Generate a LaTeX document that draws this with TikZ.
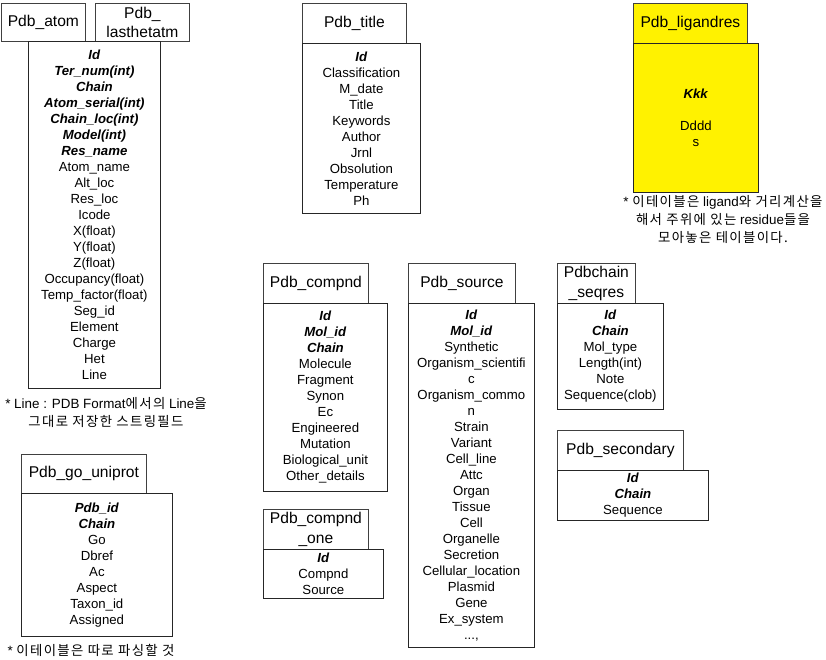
\documentclass[tikz,border=0pt]{standalone}
\usepackage{fontspec}
\setmainfont{Liberation Sans}
\newfontfamily\kr[LetterSpace=10]{Noto Sans CJK KR}
\usepackage{tikz}
\usetikzlibrary{positioning}
\newcommand{\pk}[1]{\textbf{\textit{#1}}}
\tikzset{
  hdr/.style={draw=black!75, line width=0.8pt, fill=white, align=center, inner sep=0pt,
    anchor=north west, font=\fontsize{15.6}{19.5}\selectfont},
  tbl/.style={draw=black!85, line width=0.8pt, align=center, inner sep=0pt,
    anchor=north west, font=\fontsize{13.2}{16}\selectfont},
  note/.style={align=center, inner sep=0pt, font=\fontsize{13.4}{18}\selectfont}
}
\begin{document}
\begin{tikzpicture}[x=1pt,y=-1pt]
\useasboundingbox (0,0) rectangle (826,659);
\node[hdr, minimum width=84, minimum height=38] (atomh) at (1,3) {Pdb\_atom};
\node[hdr, minimum width=94, minimum height=38] (lasth) at (95,3) {Pdb\_\\lasthetatm};
\node[tbl, minimum width=132, minimum height=347] (atom) at (28,41) {
\pk{Id}\\ \pk{Ter\_num(int)}\\ \pk{Chain}\\ \pk{Atom\_serial(int)}\\ \pk{Chain\_loc(int)}\\
\pk{Model(int)}\\ \pk{Res\_name}\\ Atom\_name\\ Alt\_loc\\ Res\_loc\\ Icode\\ X(float)\\
Y(float)\\ Z(float)\\ Occupancy(float)\\ Temp\_factor(float)\\ Seg\_id\\ Element\\
Charge\\ Het\\ Line};
\node[note] (atomnote) at (106,412) {* Line : PDB Format{\kr 에서의} Line{\kr 을}\\
{\kr 그대로 저장한 스트링필드}};

\node[hdr, minimum width=125, minimum height=39] (goh) at (21,454) {Pdb\_go\_uniprot};
\node[tbl, minimum width=151, minimum height=143] (go) at (21,493) {
\pk{Pdb\_id}\\ \pk{Chain}\\ Go\\ Dbref\\ Ac\\ Aspect\\ Taxon\_id\\ Assigned};
\node[note] (gonote) at (91,650) {* {\kr 이테이블은 따로 파싱할 것}};

\node[hdr, minimum width=104, minimum height=40] (titleh) at (302,3) {Pdb\_title};
\node[tbl, minimum width=118, minimum height=170] (title) at (302,43) {
\pk{Id}\\ Classification\\ M\_date\\ Title\\ Keywords\\ Author\\ Jrnl\\ Obsolution\\
Temperature\\ Ph};

\node[hdr, fill=yellow, minimum width=114, minimum height=40] (ligh) at (633,3) {Pdb\_ligandres};
\node[tbl, fill=yellow, minimum width=125, minimum height=149] (lig) at (633,43) {
\pk{Kkk}\\ \mbox{}\\ Dddd\\ s};
\node[note] (lignote) at (723,219) {* {\kr 이테이블은} ligand{\kr 와 거리계산을}\\
{\kr 해서 주위에 있는} residue{\kr 들을}\\ {\kr 모아놓은 테이블이다.}};

\node[hdr, minimum width=105, minimum height=40] (compndh) at (263,263) {Pdb\_compnd};
\node[tbl, minimum width=124, minimum height=188] (compnd) at (263,303) {
\pk{Id}\\ \pk{Mol\_id}\\ \pk{Chain}\\ Molecule\\ Fragment\\ Synon\\ Ec\\ Engineered\\
Mutation\\ Biological\_unit\\ Other\_details};

\node[hdr, minimum width=105, minimum height=40] (oneh) at (263,509) {Pdb\_compnd\\\_one};
\node[tbl, minimum width=120, minimum height=49] (one) at (263,549) {
\pk{Id}\\ Compnd\\ Source};

\node[hdr, minimum width=107, minimum height=40] (sourceh) at (408,263) {Pdb\_source};
\node[tbl, minimum width=126, minimum height=344] (source) at (408,303) {
\pk{Id}\\ \pk{Mol\_id}\\ Synthetic\\ Organism\_scientifi\\ c\\ Organism\_commo\\ n\\
Strain\\ Variant\\ Cell\_line\\ Attc\\ Organ\\ Tissue\\ Cell\\ Organelle\\ Secretion\\
Cellular\_location\\ Plasmid\\ Gene\\ Ex\_system\\ ...,};

\node[hdr, minimum width=78, minimum height=40] (seqresh) at (557,263) {Pdbchain\\\_seqres};
\node[tbl, minimum width=106, minimum height=106] (seqres) at (557,303) {
\pk{Id}\\ \pk{Chain}\\ Mol\_type\\ Length(int)\\ Note\\ Sequence(clob)};

\node[hdr, minimum width=126, minimum height=40] (secondh) at (557,430) {Pdb\_secondary};
\node[tbl, minimum width=151, minimum height=50] (second) at (557,470) {
\pk{Id}\\ \pk{Chain}\\ Sequence};
\end{tikzpicture}
\end{document}
